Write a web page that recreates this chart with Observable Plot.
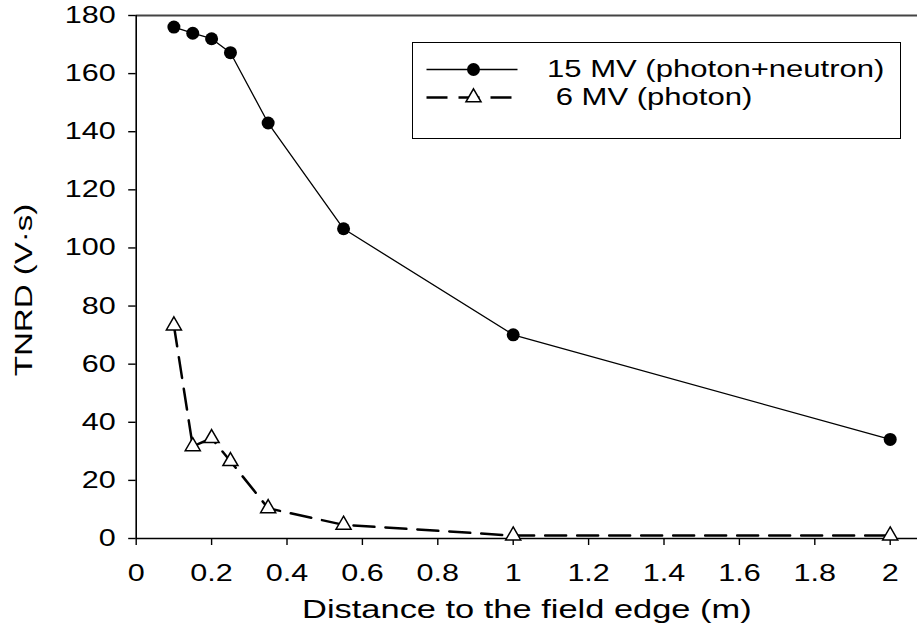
<!DOCTYPE html>
<html><head><meta charset="utf-8">
<script src="https://cdn.jsdelivr.net/npm/d3@7"></script>
<script src="https://cdn.jsdelivr.net/npm/@observablehq/plot@0.6"></script>
<style>
body{margin:0;background:#fff;}
#wrap{position:relative;width:917px;height:630px;font-family:"Liberation Sans",Arial,sans-serif;}
#legend{position:absolute;left:412px;top:42px;width:489px;height:97px;box-sizing:border-box;border:1.5px solid #000;background:#fff;}
#legend .lbl{position:absolute;font-size:23px;line-height:23px;white-space:pre;transform-origin:0 50%;color:#000;}
</style></head><body><div id="wrap"></div>
<script>
// ---- data ----
const distance = [0.1, 0.15, 0.2, 0.25, 0.35, 0.55, 1, 2];
const tnrd15 = [176, 173.9, 172, 167.2, 143, 106.6, 70.1, 34.1];
const tnrd6 = [73.3, 31.7, 34.5, 26.6, 10.4, 4.7, 1, 1];
const seriesNames = ["15 MV (photon+neutron)", " 6 MV (photon)"];
const xTicks = [0, 0.2, 0.4, 0.6, 0.8, 1, 1.2, 1.4, 1.6, 1.8, 2];
const yTicks = [0, 20, 40, 60, 80, 100, 120, 140, 160, 180];
const xTitle = "Distance to the field edge (m)";
const yTitle = "TNRD (V·s)";

const STRETCH_TICK = 1.3;
const STRETCH_TITLE = 1.35;
const STRETCH_LEGEND = 1.35;

const s15 = distance.map((d, i) => ({x: d, y: tnrd15[i]}));
const s6 = distance.map((d, i) => ({x: d, y: tnrd6[i]}));

const chart = Plot.plot({
  width: 917,
  height: 630,
  marginLeft: 135.7,
  marginRight: 0,
  marginTop: 15,
  marginBottom: 92,
  style: {fontFamily: '"Liberation Sans", Arial, sans-serif', background: "#fff", color: "#000"},
  x: {domain: [0, 2.0724]},
  y: {domain: [0, 180]},
  marks: [
    Plot.ruleY([180], {stroke: "#444", strokeWidth: 2}),
    Plot.ruleY([0], {stroke: "#000", strokeWidth: 1.6}),
    Plot.ruleX([0], {y1: 0, y2: 180, stroke: "#000", strokeWidth: 1.6}),
    Plot.axisX({ticks: xTicks, tickSize: 7, tickPadding: 19, fontSize: 23.5, label: null, tickFormat: d => String(d), strokeWidth: 1.4}),
    Plot.axisY({ticks: yTicks, tickSize: 7.5, tickPadding: 13, fontSize: 23.5, label: null, tickFormat: d => String(d), strokeWidth: 1.4}),
    Plot.text([xTitle], {frameAnchor: "bottom", textAnchor: "middle", lineAnchor: "bottom", dy: 79, fontSize: 25.5}),
    Plot.text([yTitle], {frameAnchor: "left", textAnchor: "middle", lineAnchor: "bottom", rotate: -90, dx: -104, dy: 13, fontSize: 24.5}),
    Plot.line(s15, {x: "x", y: "y", stroke: "#000", strokeWidth: 1.3}),
    Plot.line(s6, {x: "x", y: "y", stroke: "#000", strokeWidth: 2.5, strokeDasharray: "21,11"}),
    Plot.dot(s15, {x: "x", y: "y", r: 6.5, fill: "#000", stroke: "none"}),
    Plot.dot(s6, {x: "x", y: "y", r: 5.6, symbol: "triangle", fill: "#fff", stroke: "#000", strokeWidth: 1.5})
  ]
});

// horizontally stretch text to match the wide lettering of the original
d3.select(chart).selectAll("text").each(function() {
  const t = d3.select(this);
  const txt = this.textContent;
  const s = (txt === xTitle || txt === yTitle) ? STRETCH_TITLE : STRETCH_TICK;
  let tr = t.attr("transform");
  if (tr) {
    t.attr("transform", tr + ` scale(${s},1)`);
  } else {
    const x = +t.attr("x") || 0;
    t.attr("x", 0).attr("transform", `translate(${x},0) scale(${s},1)`);
  }
});

const wrap = document.getElementById("wrap");
wrap.appendChild(chart);

// legend (overlay inside the plot frame)
const legend = document.createElement("div");
legend.id = "legend";
const lsvg = d3.create("svg").attr("width", 486).attr("height", 94)
  .style("position", "absolute").style("left", "0").style("top", "0");
// row 1: solid line + dot (legend-local coords)
lsvg.append("line").attr("x1", 13.5).attr("x2", 104.5).attr("y1", 26.5).attr("y2", 26.5).attr("stroke", "#000").attr("stroke-width", 1.3);
lsvg.append("circle").attr("cx", 60.5).attr("cy", 26.5).attr("r", 6.5).attr("fill", "#000");
// row 2: dashed + triangle
lsvg.append("line").attr("x1", 13.5).attr("x2", 104.5).attr("y1", 54.5).attr("y2", 54.5).attr("stroke", "#000").attr("stroke-width", 2.5).attr("stroke-dasharray", "21,11");
lsvg.append("path").attr("transform", "translate(60.5,54.5)").attr("d", d3.symbol(d3.symbolTriangle, 5.6 * 5.6 * Math.PI)()).attr("fill", "#fff").attr("stroke", "#000").attr("stroke-width", 1.5);
legend.appendChild(lsvg.node());
[[seriesNames[0], 133.5, 15.25], [seriesNames[1], 133.5, 43.25]].forEach(([name, l, t]) => {
  const sp = document.createElement("div");
  sp.className = "lbl";
  sp.textContent = name;
  sp.style.left = l + "px";
  sp.style.top = t + "px";
  sp.style.transform = `scaleX(${STRETCH_LEGEND})`;
  legend.appendChild(sp);
});
wrap.appendChild(legend);
</script>
</body></html>
